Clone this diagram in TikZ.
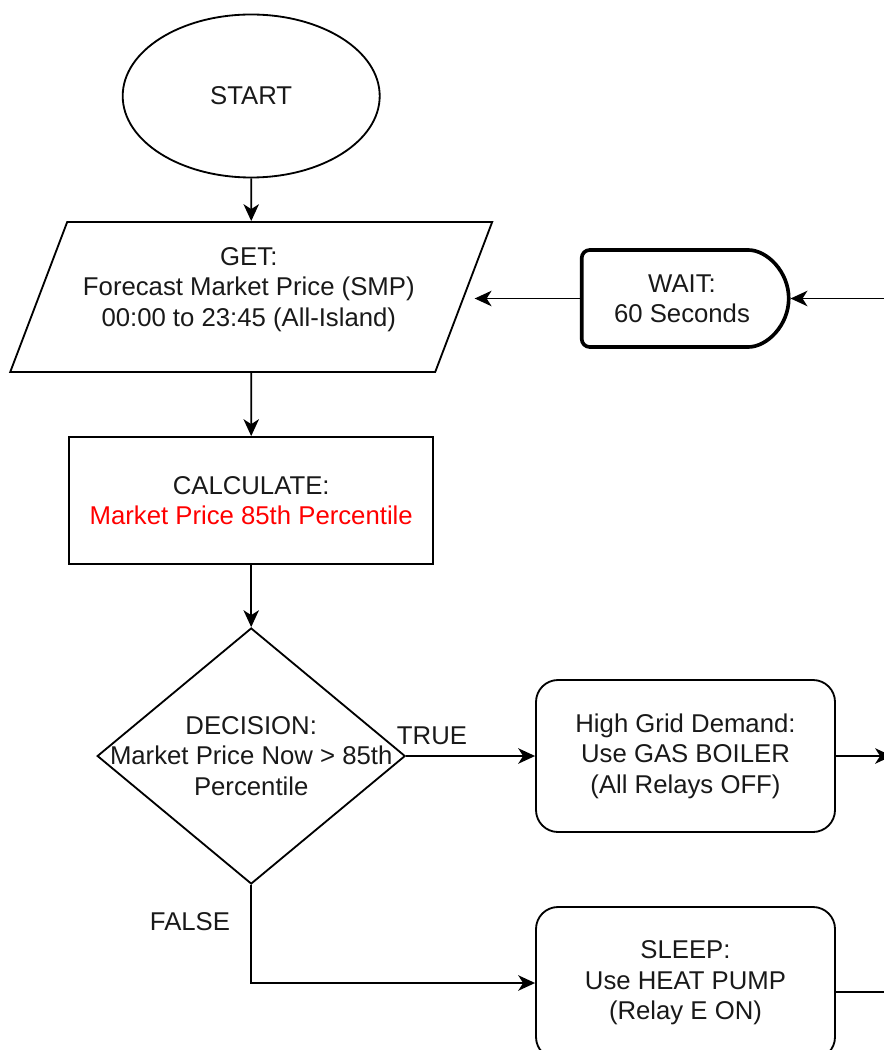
\documentclass[tikz,border=0pt]{standalone}
\usepackage{fontspec}
\setmainfont{Liberation Sans}
\usepackage{tikz}
\usetikzlibrary{shapes, arrows.meta, positioning, calc}
\definecolor{pricered}{RGB}{255,0,0}
\definecolor{inkgrey}{RGB}{25,25,25}

\begin{document}
\begin{tikzpicture}[
  txt/.style={align=center, text=inkgrey, font=\fontsize{18.3}{21.6}\selectfont},
  box/.style={draw, line width=1.3pt, inner sep=0pt, txt},
  flow/.style={line width=1.3pt, -{Stealth[length=12pt, width=11pt, inset=3.5pt]}},
  procbox/.style={box, rounded corners=0.55cm, minimum width=7.475cm, minimum height=3.8cm}
]
  \useasboundingbox (0,0) rectangle (22.075,-26.25);

  \node[box, ellipse, minimum width=6.425cm, minimum height=4.075cm] (start) at (6.28,-2.4) {START};
  \node[box, trapezium, trapezium left angle=69.2, trapezium right angle=110.8,
        text width=9.2cm, text height=3.75cm, text depth=0pt] (get) at (6.28,-7.425) {};
  \node[txt] (gettext) at (6.22,-7.24) {GET:\\Forecast Market Price (SMP)\\00:00 to 23:45 (All-Island)};
  \node[box, rectangle, minimum width=9.1cm, minimum height=3.175cm] (calc) at (6.28,-12.5125)
    {CALCULATE:\\\textcolor{pricered}{Market Price 85th Percentile}};
  \node[box, diamond, inner sep=2pt, minimum width=7.7cm, minimum height=6.4cm] (dec) at (6.28,-18.9) {};
  \node[txt] (dectext) at (dec.center) {DECISION:\\Market Price Now > 85th\\Percentile};
  \node[procbox] (hg) at (17.1375,-18.9) {High Grid Demand:\\Use GAS BOILER\\(All Relays OFF)};
  \node[procbox] (sleep) at (17.1375,-24.575) {SLEEP:\\Use HEAT PUMP\\(Relay E ON)};
  \node[box, rounded rectangle, rounded rectangle left arc=none, line width=2.6pt, rounded corners=0.2cm,
        minimum width=5.175cm, minimum height=2.425cm] (wait) at (17.05,-7.4625) {WAIT:\\60 Seconds};

  \node[txt] (truelbl) at (10.8,-18.4) {TRUE};
  \node[txt] (falselbl) at (4.75,-23.05) {FALSE};

  \coordinate (waitin) at (22.6,-7.4625);
  \coordinate (hgout) at (22.3,-18.9);
  \coordinate (sleepout) at (22.6,-24.8);

  \draw[flow] (start.south) -- (get.north);
  \draw[flow] (get.south) -- (calc.north);
  \draw[flow] (calc.south) -- (dec.north);
  \draw[flow] (dec.east) -- (hg.west);
  \draw[flow] (dec.south) |- (sleep.west);
  \draw[flow] (waitin) -- (wait.east);
  \draw[flow, shorten >=0.25cm] (wait.west) -- (wait.west -| get.east);
  \draw[flow] (hg.east) -- (hgout);
  \draw[line width=1.3pt] (sleep.east |- sleepout) -- (sleepout);
\end{tikzpicture}
\end{document}
